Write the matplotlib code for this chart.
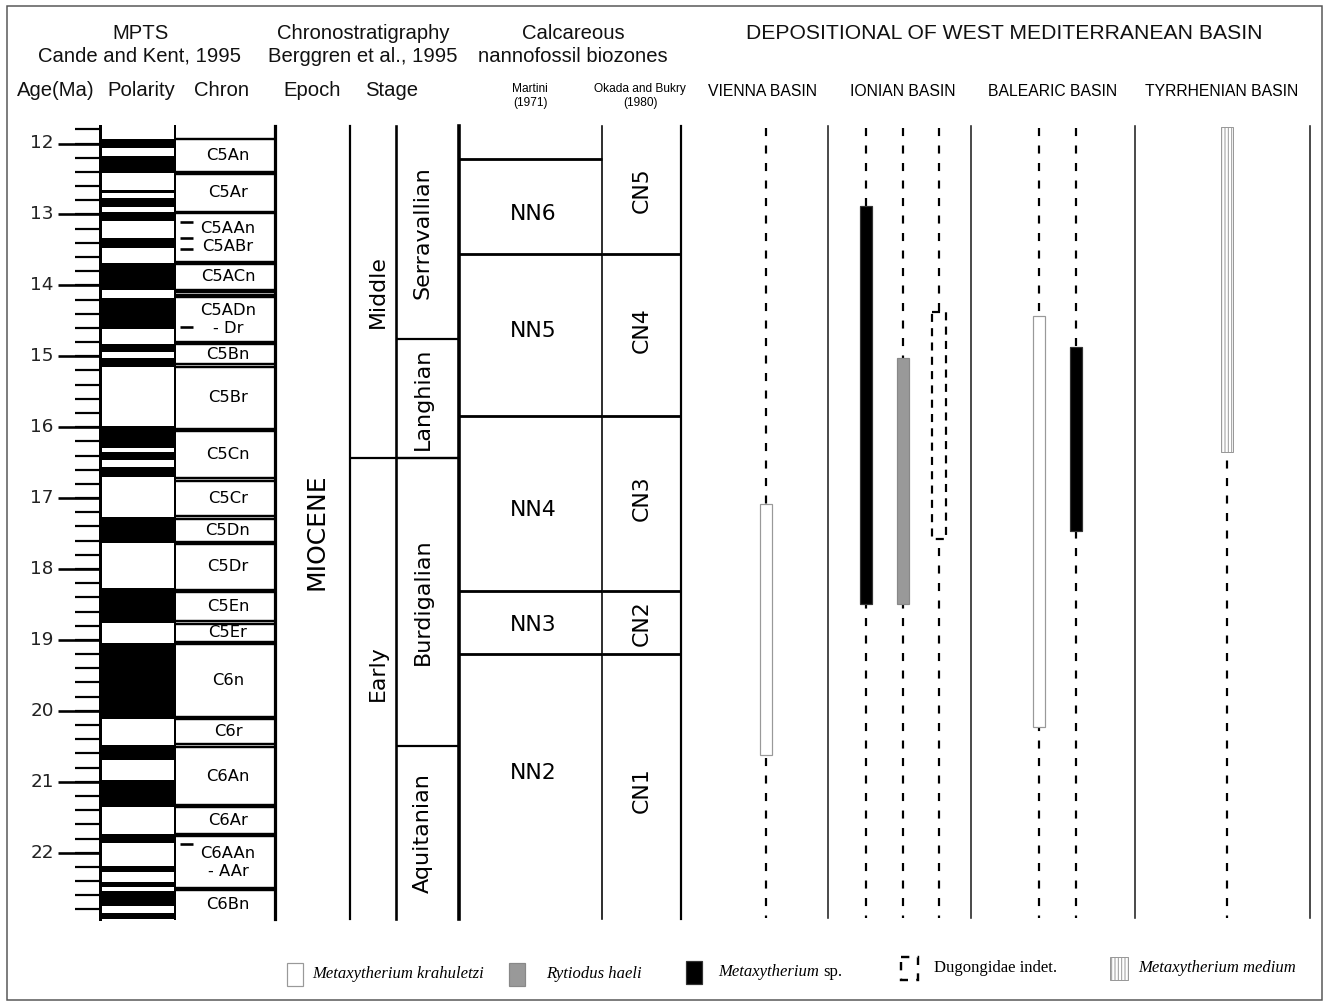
import matplotlib
matplotlib.use("Agg")
import matplotlib.pyplot as plt
from matplotlib.patches import Rectangle
import numpy as np

plt.rcParams['lines.scale_dashes'] = False
plt.rcParams['hatch.linewidth'] = 0.7

# ---------------- data ----------------
age_major = [12, 13, 14, 15, 16, 17, 18, 19, 20, 21, 22]
age_minor = [round(v, 1) for v in np.arange(11.8, 22.81, 0.2)]

# normal polarity (black) intervals, Ma
pol_top = [11.94, 12.17, 12.66, 12.77, 12.96, 13.33, 13.68, 14.18, 14.83, 15.03,
           15.98, 16.35, 16.56, 17.26, 18.27, 19.05, 20.48, 20.97, 21.74, 22.19,
           22.42, 22.54, 22.85]
pol_base = [12.06, 12.41, 12.70, 12.89, 13.09, 13.48, 14.06, 14.62, 14.94, 15.15,
            16.30, 16.46, 16.70, 17.63, 18.76, 20.12, 20.69, 21.35, 21.87, 22.27,
            22.48, 22.75, 22.94]

chron_names = ["C5An", "C5Ar", "C5AAn\nC5ABr", "C5ACn", "", "C5ADn\n- Dr", "C5Bn",
               "C5Br", "C5Cn", "C5Cr", "C5Dn", "C5Dr", "C5En", "C5Er", "C6n", "C6r",
               "C6An", "C6Ar", "C6AAn\n- AAr", "C6Bn"]
chron_top = [11.93, 12.43, 12.98, 13.70, 14.09, 14.17, 14.83, 15.15, 16.06, 16.76,
             17.29, 17.65, 18.32, 18.77, 19.06, 20.12, 20.51, 21.36, 21.77, 22.53]
chron_base = [12.40, 12.96, 13.67, 14.06, 14.14, 14.80, 15.11, 16.02, 16.72, 17.25,
              17.62, 18.29, 18.73, 19.03, 20.08, 20.47, 21.33, 21.74, 22.50, 22.94]
chron_marks = [13.11, 13.33, 13.49, 14.59, 21.88]

col_top, col_base = 11.75, 22.94
epoch_name = "MIOCENE"
subepochs = ["Middle", "Early"]
subepoch_bounds = [11.75, 16.43, 22.94]
stages = ["Serravallian", "Langhian", "Burdigalian", "Aquitanian"]
stage_bounds = [11.75, 14.76, 16.43, 20.50, 22.94]
nn_zones = ["NN6", "NN5", "NN4", "NN3", "NN2"]
nn_bounds = [12.22, 13.56, 15.84, 18.31, 19.20, 22.94]
cn_zones = ["CN5", "CN4", "CN3", "CN2", "CN1"]
cn_bounds = [11.75, 13.56, 15.84, 18.31, 19.20, 22.94]

basins = ["VIENNA BASIN", "IONIAN BASIN", "BALEARIC BASIN", "TYRRHENIAN BASIN"]
taxa = ["Metaxytherium krahuletzi", "Rytiodus haeli", "Metaxytherium sp.",
        "Dugongidae indet.", "Metaxytherium medium"]
# occurrences: basin index, lane within basin, taxon index, top age, base age
occ_basin = [0, 1, 1, 1, 2, 2, 3]
occ_lane = [0, 0, 1, 2, 0, 1, 0]
occ_taxon = [0, 2, 1, 3, 0, 2, 4]
occ_top = [17.08, 12.88, 15.03, 14.37, 14.43, 14.87, 11.77]
occ_base = [20.62, 18.49, 18.49, 17.57, 20.23, 17.46, 16.35]

# ---------------- layout ----------------
W, H = 1324, 1008
PX0, PPM = 143.5, 70.92


def Y(px):
    return 12 + (px - PX0) / PPM


def lw(px):
    return px * 0.72


# label placement shifts (pixels) relative to interval centres
nn_label_shift = [7, -4, 7, 2, -14]
cn_label_shift = [0, -5, -5, 1, 3]
subepoch_label_shift = [0, -15]

fig = plt.figure(figsize=(W / 100, H / 100), dpi=100)
ax = fig.add_axes([0, 0, 1, 1])
ax.set_xlim(0, W)
ax.set_ylim(Y(H), Y(0))
ax.axis('off')

SANS = "Liberation Sans"
GEO = "DejaVu Sans"

# outer frame
ax.add_patch(Rectangle((7, Y(1000)), 1315, Y(6) - Y(1000), fill=False,
                       ec='#555555', lw=lw(1.5)))

# headers
hdr = dict(ha='center', va='center', family=SANS, fontsize=14.6, color='#111111')
ax.text(140, Y(33), "MPTS", **hdr)
ax.text(140, Y(56), "Cande and Kent, 1995", **hdr)
ax.text(363, Y(33), "Chronostratigraphy", **hdr)
ax.text(363, Y(56), "Berggren et al., 1995", **hdr)
ax.text(573, Y(33), "Calcareous", **hdr)
ax.text(573, Y(56), "nannofossil biozones", **hdr)
ax.text(1004, Y(33), "DEPOSITIONAL OF WEST MEDITERRANEAN BASIN", ha='center',
        va='center', family=SANS, fontsize=15.2, color='#111111')
for xx, t in zip([56, 141, 222, 312, 392], ["Age(Ma)", "Polarity", "Chron", "Epoch", "Stage"]):
    ax.text(xx, Y(90), t, **hdr)
ax.text(530, Y(96), "Martini\n(1971)", ha='center', va='center', family=SANS,
        fontsize=8.6, linespacing=1.3)
ax.text(640, Y(96), "Okada and Bukry\n(1980)", ha='center', va='center', family=SANS,
        fontsize=8.6, linespacing=1.3)
basin_x = [763, 903, 1053, 1222]
for xx, t in zip(basin_x, basins):
    ax.text(xx, Y(92), t, ha='center', va='center', family=SANS, fontsize=11.3)

# age axis ticks
for a in age_minor:
    ax.plot([75, 100], [a, a], color='k', lw=lw(2.2), solid_capstyle='butt')
for a in age_major:
    ax.plot([58, 100], [a, a], color='k', lw=lw(2.6), solid_capstyle='butt')
    ax.text(42, a, str(a), ha='center', va='center', family=GEO, fontsize=13.2,
            color='#222222')

# polarity column
for t, b in zip(pol_top, pol_base):
    ax.add_patch(Rectangle((100, t), 75, b - t, fc='black', ec='none'))
ax.plot([100, 100], [col_top, col_base], color='k', lw=lw(3))
ax.plot([175, 175], [col_top, col_base], color='k', lw=lw(2))

# chron column
for name, t, b in zip(chron_names, chron_top, chron_base):
    ax.plot([175, 275], [t, t], color='k', lw=lw(2.4), solid_capstyle='butt')
    if b < col_base - 0.01:
        ax.plot([175, 275], [b, b], color='k', lw=lw(2.4), solid_capstyle='butt')
    if name:
        ax.text(228, (t + b) / 2, name, ha='center', va='center', family=GEO,
                fontsize=11.8, linespacing=1.25)
for m in chron_marks:
    ax.plot([180, 193], [m, m], color='k', lw=lw(2.6), solid_capstyle='butt')
ax.plot([275, 275], [col_top, col_base], color='k', lw=lw(3.2))

# epoch / sub-epoch / stage columns
ax.text(317, (col_top + col_base) / 2 + 0.13, epoch_name, rotation=90, ha='center',
        va='center', family=GEO, fontsize=18)
for xx, w in [(350, 2.2), (396, 2.6), (459, 3.6), (602, 1.6), (681, 2.2)]:
    ax.plot([xx, xx], [col_top, col_base], color='k', lw=lw(w))
for i, name in enumerate(subepochs):
    t, b = subepoch_bounds[i], subepoch_bounds[i + 1]
    if i > 0:
        ax.plot([350, 459], [t, t], color='k', lw=lw(2.2), solid_capstyle='butt')
    ax.text(378, (t + b) / 2 + subepoch_label_shift[i] / PPM, name, rotation=90,
            ha='center', va='center', family=GEO, fontsize=15.8)
for i, name in enumerate(stages):
    t, b = stage_bounds[i], stage_bounds[i + 1]
    if i > 0:
        ax.plot([396, 459], [t, t], color='k', lw=lw(2.2), solid_capstyle='butt')
    ax.text(423, (t + b) / 2, name, rotation=90, ha='center', va='center',
            family=GEO, fontsize=16)
for i, name in enumerate(nn_zones):
    t, b = nn_bounds[i], nn_bounds[i + 1]
    ax.plot([459, 602], [t, t], color='k', lw=lw(2.8), solid_capstyle='butt')
    ax.text(533, (t + b) / 2 + nn_label_shift[i] / PPM, name, ha='center',
            va='center', family=GEO, fontsize=15.8)
for i, name in enumerate(cn_zones):
    t, b = cn_bounds[i], cn_bounds[i + 1]
    if i > 0:
        ax.plot([602, 681], [t, t], color='k', lw=lw(2.8), solid_capstyle='butt')
    ax.text(642, (t + b) / 2 + cn_label_shift[i] / PPM, name, rotation=90,
            ha='center', va='center', family=GEO, fontsize=15.8)

# basin columns
for xx in [828, 971, 1135, 1310]:
    ax.plot([xx, xx], [Y(126), Y(918)], color='#222222', lw=lw(1.6))
lane_x = [[766], [866, 903, 939], [1039, 1076], [1227]]
for lanes in lane_x:
    for xx in lanes:
        ax.plot([xx, xx], [Y(128), Y(918)], color='k', lw=lw(2.2),
                linestyle=(0, (5.8, 6.8)))

BW = 12.5
fills = ['white', '#999999', 'black', 'white', 'white']
edges = ['#999999', '#888888', '#333333', 'black', '#999999']
for bi, ln, tx, t, b in zip(occ_basin, occ_lane, occ_taxon, occ_top, occ_base):
    xx = lane_x[bi][ln]
    if tx == 3:
        ax.add_patch(Rectangle((xx - 7, t), 14, b - t, fc='white', ec='black',
                               lw=lw(2.2), linestyle=(0, (5.8, 4.5)), zorder=3))
    elif tx == 4:
        ax.add_patch(Rectangle((xx - BW / 2, t), BW, b - t, fc='white', ec='#999999',
                               lw=lw(1), hatch='|||||', zorder=3))
    else:
        ax.add_patch(Rectangle((xx - BW / 2, t), BW, b - t, fc=fills[tx],
                               ec=edges[tx], lw=lw(1.2), zorder=3))

# legend
leg_sym_x = [287, 509, 686, 901, 1110]
leg_txt_x = [312, 546, 718, 934, 1138]
leg_y = [974, 974, 972, 968, 968]
for i, name in enumerate(taxa):
    xs, ty = leg_sym_x[i], leg_y[i]
    top, bot = Y(ty - 11), Y(ty + 12)
    if i == 3:
        ax.add_patch(Rectangle((xs, top), 17, bot - top, fc='white', ec='black',
                               lw=lw(2.4), linestyle=(0, (6, 6))))
    elif i == 4:
        ax.add_patch(Rectangle((xs, top), 18, bot - top, fc='white', ec='#999999',
                               lw=lw(1), hatch='|||||'))
    else:
        ax.add_patch(Rectangle((xs, top), 16, bot - top, fc=fills[i], ec=edges[i],
                               lw=lw(1.2)))
    if name.endswith(" sp."):
        t1 = ax.text(leg_txt_x[i], Y(ty), name[:-4], ha='left', va='center',
                     family="Liberation Serif", style='italic', fontsize=12)
        fig.canvas.draw()
        bb = t1.get_window_extent()
        ax.text(leg_txt_x[i] + bb.width + 4, Y(ty), "sp.", ha='left', va='center',
                family="Liberation Serif", fontsize=12)
    elif name.startswith("Dugongidae"):
        ax.text(leg_txt_x[i], Y(ty), name, ha='left', va='center',
                family="Liberation Serif", fontsize=12)
    else:
        ax.text(leg_txt_x[i], Y(ty), name, ha='left', va='center',
                family="Liberation Serif", style='italic', fontsize=12)

fig.savefig("out.png", dpi=100, facecolor='white')
